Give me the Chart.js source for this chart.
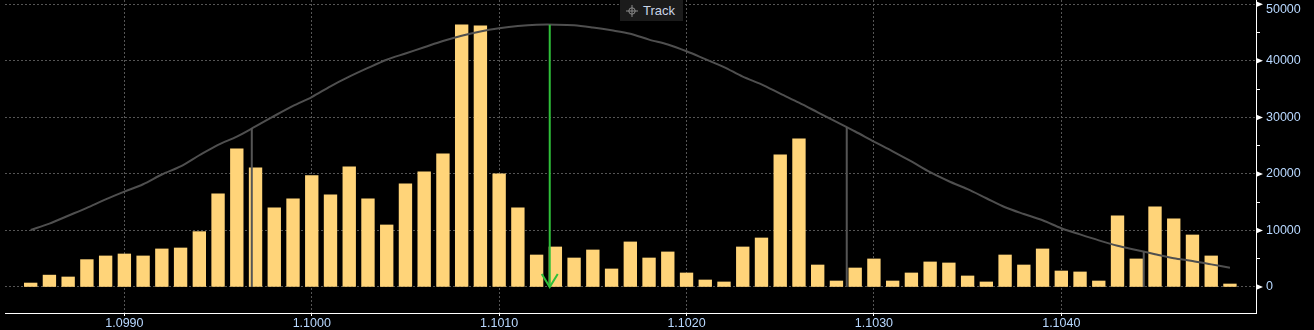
<!DOCTYPE html>
<html lang="en">
<head>
    <meta charset="UTF-8">
    <title>Track</title>
    <style>
        body { margin: 0; background: #000; }
        #wrap { position: relative; width: 1314px; height: 330px; }
        #track {
            position: absolute; left: 620px; top: 0; width: 63px; height: 21px;
            background: #1b1b1b; color: #c9d3e6;
            font: 13px "Liberation Sans", Arial, sans-serif;
            display: flex; align-items: center;
        }
        #track svg { margin: 0 5px 0 6px; }
    </style>
    <script src="https://cdn.jsdelivr.net/npm/chart.js"></script>
</head>
<body>
<div id="wrap">
    <canvas id="viz" width="1314" height="330"></canvas>
    <div id="track">
        <svg width="12" height="12" viewBox="0 0 12 12">
            <circle cx="6" cy="6" r="3.2" fill="none" stroke="#8a8a8a" stroke-width="1"/>
            <path d="M6 0V12M0 6H12" stroke="#8a8a8a" stroke-width="1"/>
        </svg>
        <span>Track</span>
    </div>
</div>
<script>
    // price levels (one bar each)
    const prices = [
        1.0985, 1.0986, 1.0987, 1.0988, 1.0989, 1.0990, 1.0991, 1.0992, 1.0993, 1.0994,
        1.0995, 1.0996, 1.0997, 1.0998, 1.0999, 1.1000, 1.1001, 1.1002, 1.1003, 1.1004,
        1.1005, 1.1006, 1.1007, 1.1008, 1.1009, 1.1010, 1.1011, 1.1012, 1.1013, 1.1014,
        1.1015, 1.1016, 1.1017, 1.1018, 1.1019, 1.1020, 1.1021, 1.1022, 1.1023, 1.1024,
        1.1025, 1.1026, 1.1027, 1.1028, 1.1029, 1.1030, 1.1031, 1.1032, 1.1033, 1.1034,
        1.1035, 1.1036, 1.1037, 1.1038, 1.1039, 1.1040, 1.1041, 1.1042, 1.1043, 1.1044,
        1.1045, 1.1046, 1.1047, 1.1048, 1.1049
    ]

    const volumes = [
        700, 2100, 1770, 4840, 5490, 5840, 5490, 6730, 6900, 9790,
        16460, 24430, 21060, 13980, 15580, 19710, 16280, 21240, 15580, 10970,
        18230, 20350, 23540, 46370, 46200, 20000, 13980, 5660, 7080, 5130,
        6550, 3190, 7970, 5130, 6200, 2480, 1240, 890, 7080, 8670,
        23360, 26200, 3890, 1060, 3360, 4960, 1060, 2480, 4430, 4250,
        1950, 890, 5660, 3890, 6730, 2830, 2660, 1060, 12570, 4960,
        14160, 12040, 9200, 5490, 530
    ]

    const curve = [
        10090, 11200, 12600, 14000, 15500, 16870, 18170, 19900, 21330, 23300,
        25150, 26600, 28400, 30250, 32030, 33600, 35500, 37200, 38750, 40200,
        41300, 42400, 43500, 44450, 45200, 45750, 46150, 46380, 46400, 46300,
        45900, 45400, 44800, 43750, 42900, 41700, 40300, 38900, 37200, 35850,
        34200, 32600, 30900, 29200, 27500, 25720, 24000, 22200, 20300, 18700,
        17300, 15700, 14100, 12900, 11800, 10400, 9300, 8250, 7300, 6550,
        5800, 5100, 4600, 4000, 3400
    ]

    // vertical marker lines: price and height where they meet the curve
    const markerPrices = [1.09968, 1.102855, 1.10444]
    const markerTops = [28100, 28300, 6250]

    const arrowPrice = 1.10127
    const arrowTop = 46400

    const xTicks = [1.0990, 1.1000, 1.1010, 1.1020, 1.1030, 1.1040]
    const yTicks = [0, 5000, 10000, 15000, 20000, 25000, 30000, 35000, 40000, 45000, 50000]

    const labelColor = '#b8d8ff'
    const gridColor = '#555'
    const font = { family: '"Liberation Sans", Arial, sans-serif', size: 12.5 }

    const arrowHead = {
        id: 'arrowHead',
        afterDatasetsDraw(chart) {
            const pt = chart.getDatasetMeta(0).data[1]
            const ctx = chart.ctx
            ctx.save()
            ctx.strokeStyle = '#2fbf3a'
            ctx.lineWidth = 2
            ctx.beginPath()
            ctx.moveTo(pt.x - 8, pt.y - 13)
            ctx.lineTo(pt.x, pt.y)
            ctx.lineTo(pt.x + 8, pt.y - 13)
            ctx.stroke()
            ctx.restore()
        }
    }

    // top label sits lower so it stays inside the canvas
    const topLabel = {
        id: 'topLabel',
        beforeDraw(chart) {
            const s = chart.scales.y
            const items = s.getLabelItems(chart.chartArea)
            const top = items.find(it => it.label === '50000')
            if (top && !top.moved) {
                top.options.translation[1] += 5
                top.moved = true
            }
        }
    }

    const yMarks = {
        id: 'yMarks',
        afterDraw(chart) {
            const s = chart.scales.y
            const ctx = chart.ctx
            ctx.save()
            ctx.fillStyle = '#fff'
            for (const v of yTicks) {
                if (v % 10000 !== 0) continue
                const y = s.getPixelForValue(v)
                ctx.beginPath()
                ctx.moveTo(s.left, y - 3)
                ctx.lineTo(s.left + 7, y)
                ctx.lineTo(s.left, y + 3)
                ctx.closePath()
                ctx.fill()
            }
            ctx.restore()
        }
    }

    const datasets = [
        {
            type: 'line',
            data: [{ x: arrowPrice, y: arrowTop }, { x: arrowPrice, y: 0 }],
            borderColor: '#2fbf3a', borderWidth: 2, pointRadius: 0
        },
        ...markerPrices.map((p, i) => ({
            type: 'line',
            data: [{ x: p, y: markerTops[i] }, { x: p, y: 0 }],
            borderColor: '#555', borderWidth: 2, pointRadius: 0
        })),
        {
            type: 'line',
            data: prices.map((p, i) => ({ x: p, y: curve[i] })),
            borderColor: '#4f4f4f', borderWidth: 2, pointRadius: 0, tension: 0.3
        },
        {
            type: 'bar',
            data: prices.map((p, i) => ({ x: p, y: volumes[i] })),
            backgroundColor: '#ffd479', barThickness: 12.7
        }
    ]

    const noPad = (scale) => {
        scale.paddingTop = 0
        scale.paddingBottom = 0
        scale.paddingLeft = 0
        scale.paddingRight = 0
    }

    new Chart(document.getElementById('viz'), {
        type: 'line',
        data: { datasets },
        plugins: [arrowHead, topLabel, yMarks],
        options: {
            responsive: false,
            animation: false,
            events: [],
            layout: { padding: { left: 5, top: 0, right: 0, bottom: 0 } },
            plugins: { legend: { display: false }, tooltip: { enabled: false } },
            scales: {
                x: {
                    type: 'linear',
                    min: 1.098363,
                    max: 1.105039,
                    offset: false,
                    afterBuildTicks: (s) => { s.ticks = xTicks.map(v => ({ value: v })) },
                    afterFit: (s) => { s.height = 17; noPad(s) },
                    ticks: {
                        callback: (v) => v.toFixed(4),
                        color: labelColor, font, padding: 0,
                        maxRotation: 0, autoSkip: false
                    },
                    grid: { color: gridColor, tickColor: '#fff', tickLength: 3, offset: false },
                    border: { color: '#fff', width: 1, dash: [2, 2] }
                },
                y: {
                    position: 'right',
                    min: -4600,
                    max: 50760,
                    afterBuildTicks: (s) => { s.ticks = yTicks.map(v => ({ value: v })) },
                    afterFit: (s) => { s.width = 58; noPad(s) },
                    ticks: {
                        callback: (v) => (v % 10000 === 0 ? String(v) : ''),
                        color: labelColor, font, padding: 6
                    },
                    grid: {
                        color: (c) => (c.tick && c.tick.value % 10000 === 0 ? gridColor : 'rgba(0,0,0,0)'),
                        tickColor: '#fff', tickLength: 4
                    },
                    border: { color: '#fff', width: 1, dash: [2, 2] }
                }
            }
        }
    })
</script>
</body>
</html>
